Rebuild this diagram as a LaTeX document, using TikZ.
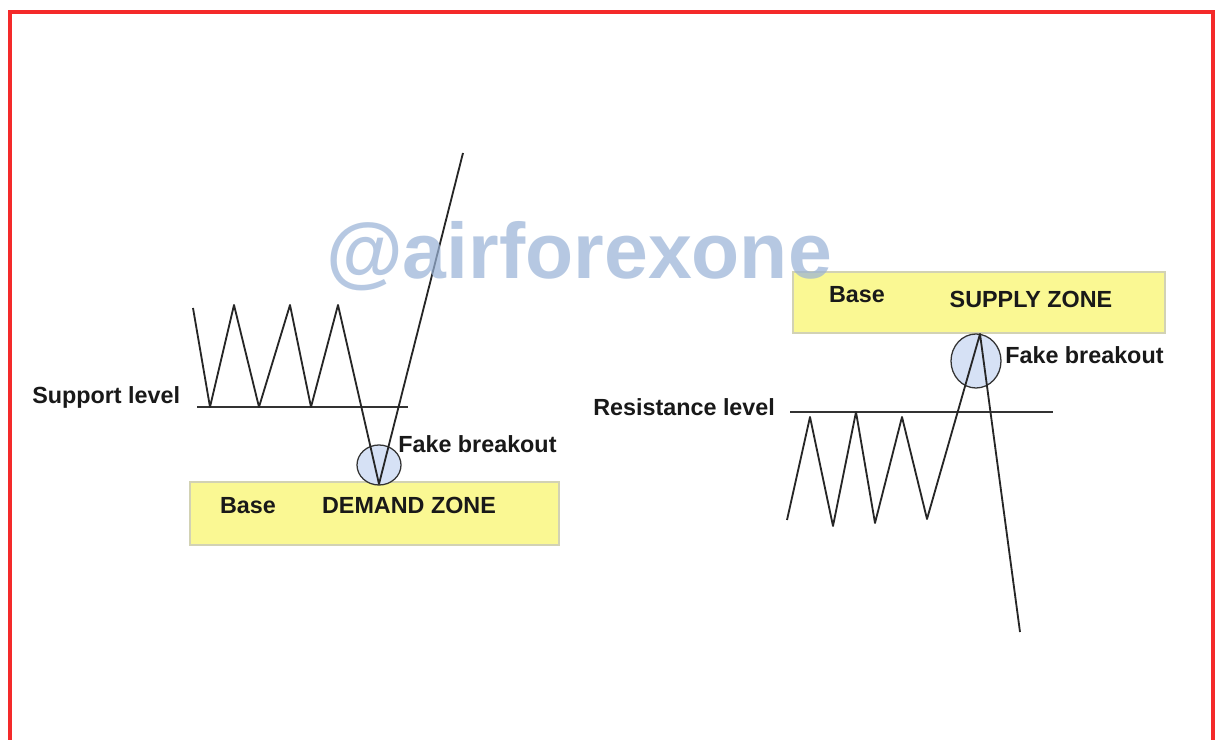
\documentclass[tikz,border=0pt]{standalone}
\usepackage{fontspec}
\setmainfont{Liberation Sans}
\usepackage{xcolor}
\usepackage{tikz}
\usetikzlibrary{positioning,shapes.geometric}
\definecolor{zonayel}{HTML}{FAF893}
\definecolor{bordezona}{HTML}{D2D2B4}
\definecolor{burbuja}{HTML}{D6E1F5}
\definecolor{marco}{HTML}{F42A2A}
\definecolor{sello}{HTML}{98B2D6}

\begin{document}
\begin{tikzpicture}[x=0.025cm, y=-0.025cm,
  zona/.style={draw=bordezona, fill=zonayel, line width=1.2pt, inner sep=0pt},
  burbujazo/.style={ellipse, draw=black!80, fill=burbuja, line width=0.9pt, inner sep=0pt},
  rotulo/.style={font=\fontsize{16.6pt}{19pt}\selectfont\bfseries, inner sep=0pt, text=black!90},
  precio/.style={line width=1.3pt, color=black!85, line join=round},
  nivel/.style={line width=1.3pt, color=black!80}
]
\useasboundingbox (0,0) rectangle (1216,740);
\fill[white] (0,0) rectangle (1216,740);
\draw[marco, line width=2.2pt] (10,745) -- (10,12) -- (1213,12) -- (1213,745);

% demand side
\node[zona, minimum width=9.225cm, minimum height=1.575cm] (demanda) at (374.5,513.5) {};
\node[burbujazo, minimum width=1.1cm, minimum height=1cm] (rupturaA) at (379,465) {};
\node[rotulo] (baseA) at (248,506) {Base};
\node[rotulo] (zonaA) at (409,505) {DEMAND ZONE};
\node[rotulo, anchor=west] (falsoA) at (398,444) {Fake breakout};
\node[rotulo, anchor=west] (soporte) at (32,397) {Support level};

\coordinate (sopI) at (197,407);
\coordinate (sopD) at (408,407);
\draw[nivel] (sopI) -- (sopD);
\draw[precio] (193,308) -- (210,407) -- (234,305) -- (259,407) -- (290,305)
  -- (311,407) -- (338,305) -- (379,484) -- (463,153);

% supply side
\node[zona, minimum width=9.3cm, minimum height=1.525cm] (oferta) at (979,302.5) {};
\node[burbujazo, minimum width=1.25cm, minimum height=1.35cm] (rupturaB) at (976,361) {};
\node[rotulo] (baseB) at (857,295) {Base};
\node[rotulo] (zonaB) at (1031,299) {SUPPLY ZONE};
\node[rotulo, anchor=west] (falsoB) at (1005,355) {Fake breakout};
\node[rotulo, anchor=west] (resistencia) at (593,407) {Resistance level};

\coordinate (resI) at (790,412);
\coordinate (resD) at (1053,412);
\draw[nivel] (resI) -- (resD);
\draw[precio] (787,520) -- (810,417) -- (833,526) -- (856,412) -- (875,523)
  -- (902,417) -- (927,519) -- (980,334) -- (1020,632);

% watermark
\node[font=\fontsize{56pt}{60pt}\selectfont\bfseries, text=sello, text opacity=0.7, inner sep=0pt] (sello) at (579,256) {@airforexone};
\end{tikzpicture}
\end{document}
